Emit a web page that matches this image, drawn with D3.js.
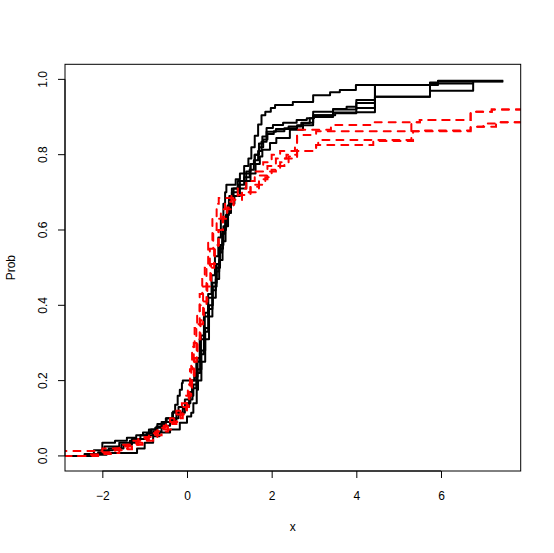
<!DOCTYPE html>
<html><head><meta charset="utf-8">
<script src="https://cdn.jsdelivr.net/npm/d3@7"></script>
<style>body{margin:0;background:#fff}svg{display:block}text{font-family:"Liberation Sans",Arial,Helvetica,sans-serif;}</style>
</head><body>
<svg id="c" width="554" height="553"></svg>
<script>
// x tick labels and y tick labels
const xTicks = [-2, 0, 2, 4, 6];
const yTicks = [0.0, 0.2, 0.4, 0.6, 0.8, 1.0];

// Black (solid) ECDF curves: [jump location, level after jump]; end = last x drawn
const black1 = [[-2.42,0.005],[-2.2,0.015],[-2.0,0.035],[-1.7,0.04],[-1.42,0.048],[-1.2,0.055],[-1.04,0.062],[-0.85,0.07],[-0.72,0.078],[-0.6,0.09],[-0.48,0.1],[-0.33,0.118],[-0.28,0.136],[-0.22,0.16],[-0.17,0.176],[-0.12,0.194],[-0.1,0.2],[0.17,0.21],[0.25,0.26],[0.33,0.32],[0.42,0.38],[0.5,0.43],[0.58,0.48],[0.66,0.53],[0.74,0.58],[0.8,0.63],[0.86,0.67],[0.9,0.70],[0.93,0.72],[1.15,0.735],[1.25,0.75],[1.35,0.77],[1.45,0.79],[1.52,0.82],[1.6,0.85],[1.68,0.88],[1.76,0.905],[1.85,0.914],[1.98,0.924],[2.08,0.932],[2.5,0.94],[2.98,0.958],[3.38,0.966],[3.61,0.972],[3.99,0.985],[5.74,0.992],[5.93,0.996]];
const black2 = [[-2.3,0.005],[-2.1,0.01],[-1.95,0.025],[-1.6,0.035],[-1.3,0.045],[-1.1,0.055],[-0.9,0.07],[-0.7,0.085],[-0.5,0.10],[-0.35,0.115],[-0.2,0.13],[-0.05,0.15],[0.05,0.17],[0.12,0.2],[0.22,0.25],[0.3,0.31],[0.4,0.37],[0.5,0.42],[0.6,0.46],[0.7,0.51],[0.78,0.56],[0.86,0.61],[0.94,0.65],[1.0,0.69],[1.06,0.71],[1.2,0.73],[1.35,0.75],[1.5,0.775],[1.6,0.80],[1.7,0.83],[1.78,0.848],[1.88,0.871],[2.03,0.879],[2.27,0.885],[2.59,0.892],[2.83,0.897],[2.98,0.914],[3.45,0.921],[3.77,0.927],[4.0,0.937],[4.44,0.954],[5.74,0.970],[6.76,0.989]];
const black3 = [[-2.2,0.005],[-2.0,0.012],[-1.85,0.02],[-1.55,0.03],[-1.35,0.04],[-1.18,0.045],[-1.0,0.055],[-0.8,0.065],[-0.6,0.08],[-0.4,0.095],[-0.25,0.11],[-0.1,0.125],[0.0,0.14],[0.08,0.16],[0.15,0.19],[0.25,0.23],[0.34,0.28],[0.43,0.34],[0.52,0.40],[0.61,0.45],[0.7,0.50],[0.78,0.55],[0.85,0.60],[0.92,0.64],[0.99,0.68],[1.06,0.70],[1.2,0.72],[1.35,0.74],[1.48,0.76],[1.58,0.785],[1.68,0.81],[1.76,0.834],[1.88,0.861],[2.1,0.868],[2.4,0.875],[2.7,0.885],[2.98,0.90],[3.45,0.912],[4.0,0.924],[4.44,0.985],[5.74,0.989],[6.76,0.996]];
const black4 = [[-2.15,0.005],[-1.98,0.015],[-1.75,0.02],[-1.5,0.03],[-1.3,0.035],[-1.15,0.045],[-0.95,0.06],[-0.75,0.075],[-0.55,0.09],[-0.35,0.10],[-0.2,0.115],[-0.05,0.13],[0.05,0.15],[0.13,0.18],[0.22,0.22],[0.31,0.27],[0.4,0.33],[0.5,0.39],[0.6,0.44],[0.68,0.49],[0.76,0.54],[0.83,0.59],[0.9,0.63],[0.96,0.665],[1.03,0.69],[1.1,0.71],[1.25,0.73],[1.4,0.755],[1.5,0.775],[1.6,0.80],[1.7,0.82],[1.8,0.84],[1.9,0.855],[2.05,0.862],[2.3,0.87],[2.6,0.878],[2.98,0.905],[3.45,0.92],[4.0,0.945],[4.44,0.985],[5.74,0.990],[5.93,0.995]];
const black5 = [[-2.2,0.003],[-1.9,0.008],[-1.18,0.02],[-1.0,0.035],[-0.8,0.052],[-0.65,0.062],[-0.4,0.07],[-0.17,0.088],[0.0,0.105],[0.1,0.115],[0.15,0.14],[0.23,0.176],[0.26,0.2],[0.34,0.25],[0.43,0.31],[0.52,0.37],[0.6,0.42],[0.68,0.47],[0.76,0.52],[0.84,0.57],[0.91,0.61],[0.97,0.645],[1.04,0.67],[1.12,0.69],[1.25,0.71],[1.4,0.73],[1.5,0.75],[1.62,0.775],[1.72,0.795],[1.78,0.813],[1.96,0.831],[2.11,0.844],[2.43,0.866],[2.74,0.884],[2.9,0.897],[3.0,0.905],[3.5,0.91],[4.0,0.913],[4.44,0.954],[5.74,0.985],[5.93,0.994]];
const blackEnds = [7.47, 6.76, 6.76, 7.47, 7.47];

// Red (dashed) ECDF curves
const red1 = [[-4,0.013],[-2.0,0.02],[-1.6,0.03],[-1.3,0.04],[-1.0,0.05],[-0.75,0.065],[-0.55,0.08],[-0.4,0.10],[-0.25,0.12],[-0.12,0.14],[-0.02,0.16],[0.02,0.18],[0.07,0.23],[0.12,0.29],[0.18,0.34],[0.24,0.38],[0.3,0.43],[0.36,0.47],[0.42,0.5],[0.5,0.57],[0.6,0.635],[0.7,0.67],[0.75,0.685],[1.2,0.693],[1.5,0.70],[1.7,0.72],[1.85,0.74],[2.0,0.76],[2.2,0.78],[2.4,0.795],[2.6,0.81],[3.05,0.826],[4.4,0.836],[5.34,0.862],[6.7,0.874],[7.3,0.886]];
const red2 = [[-2.35,0.004],[-2.0,0.01],[-1.7,0.02],[-1.4,0.03],[-1.15,0.045],[-0.9,0.06],[-0.7,0.075],[-0.5,0.09],[-0.3,0.11],[-0.15,0.13],[0.0,0.15],[0.05,0.19],[0.1,0.24],[0.16,0.3],[0.22,0.35],[0.3,0.4],[0.38,0.45],[0.46,0.5],[0.54,0.55],[0.62,0.6],[0.7,0.63],[0.8,0.655],[0.9,0.675],[1.05,0.69],[1.2,0.71],[1.4,0.73],[1.6,0.755],[1.8,0.78],[2.0,0.80],[2.2,0.81],[2.55,0.83],[2.6,0.866],[3.4,0.879],[4.4,0.886],[5.5,0.892],[6.7,0.914],[7.2,0.92]];
const red3 = [[-2.1,0.005],[-1.8,0.015],[-1.5,0.025],[-1.2,0.035],[-0.95,0.05],[-0.7,0.065],[-0.45,0.085],[-0.25,0.1],[-0.1,0.12],[0.0,0.14],[0.06,0.17],[0.12,0.21],[0.18,0.26],[0.25,0.31],[0.32,0.36],[0.4,0.41],[0.48,0.46],[0.57,0.51],[0.66,0.56],[0.75,0.6],[0.85,0.63],[0.95,0.655],[1.1,0.68],[1.3,0.70],[1.5,0.72],[1.7,0.745],[1.9,0.77],[2.1,0.79],[2.35,0.80],[2.6,0.852],[3.05,0.862],[5.5,0.864],[6.7,0.874],[7.0,0.883],[7.3,0.886]];
const red4 = [[-2.25,0.003],[-1.95,0.008],[-1.6,0.018],[-1.3,0.03],[-1.05,0.04],[-0.8,0.055],[-0.6,0.07],[-0.35,0.09],[-0.15,0.11],[-0.02,0.13],[0.04,0.16],[0.1,0.2],[0.16,0.25],[0.23,0.3],[0.3,0.35],[0.38,0.4],[0.46,0.45],[0.55,0.5],[0.64,0.55],[0.74,0.6],[0.84,0.635],[0.95,0.66],[1.1,0.68],[1.3,0.70],[1.5,0.715],[1.7,0.735],[1.9,0.755],[2.1,0.77],[2.3,0.79],[2.6,0.81],[3.05,0.826],[3.1,0.839],[4.4,0.839],[5.3,0.886],[5.5,0.892],[6.7,0.914],[7.2,0.92]];
const redEnds = [9, 9, 9, 9];

const blackCurves = [black1, black2, black3, black4, black5];
const redCurves = [red1, red2, red3, red4];

const W = 554, H = 553;
const pL = 65, pR = 520.7, pT = 64.3, pB = 471;
const x = d3.scaleLinear().domain([-2.882, 7.883]).range([pL, pR]);
const y = d3.scaleLinear().domain([-0.04, 1.04]).range([pB, pT]);

const svg = d3.select("#c");
svg.append("rect").attr("width", W).attr("height", H).attr("fill", "#fff");
svg.append("defs").append("clipPath").attr("id", "clip")
  .append("rect").attr("x", pL).attr("y", pT).attr("width", pR - pL).attr("height", pB - pT);

function stepPoints(knots, end) {
  const pts = [[x.domain()[0] - 2, 0]];
  let prev = 0;
  knots.forEach(([kx, kp]) => { pts.push([kx, prev]); pts.push([kx, kp]); prev = kp; });
  pts.push([end, prev]);
  return pts;
}
const line = d3.line().x(d => x(d[0])).y(d => y(d[1]));
const g = svg.append("g").attr("clip-path", "url(#clip)");
blackCurves.forEach((c, i) => {
  g.append("path").attr("d", line(stepPoints(c, blackEnds[i])))
    .attr("fill", "none").attr("stroke", "#000").attr("stroke-width", 2).attr("stroke-linejoin", "round");
});
redCurves.forEach((c, i) => {
  g.append("path").attr("d", line(stepPoints(c, redEnds[i])))
    .attr("fill", "none").attr("stroke", "#ff0000").attr("stroke-width", 2)
    .attr("stroke-dasharray", "7,7").attr("stroke-linecap", "round");
});

// box
svg.append("rect").attr("x", pL).attr("y", pT).attr("width", pR - pL).attr("height", pB - pT)
  .attr("fill", "none").attr("stroke", "#000").attr("stroke-width", 1);

// x axis
const xa = svg.append("g").attr("transform", `translate(0,${pB})`)
  .call(d3.axisBottom(x).tickValues(xTicks).tickSize(7).tickPadding(13).tickFormat(d => d < 0 ? "\u2212" + Math.abs(d) : String(d)));
xa.select(".domain").attr("d", `M${x(xTicks[0])},0H${x(xTicks[xTicks.length-1])}`);
xa.selectAll("text").attr("font-size", 12).attr("fill", "#000").attr("font-family", "Liberation Sans, Arial, sans-serif");
xa.selectAll("line").attr("stroke", "#000");

// y axis
const ya = svg.append("g").attr("transform", `translate(${pL},0)`)
  .call(d3.axisLeft(y).tickValues(yTicks).tickSize(7).tickFormat(d3.format(".1f")));
ya.select(".domain").attr("d", `M0,${y(yTicks[0])}V${y(yTicks[yTicks.length-1])}`);
ya.selectAll(".tick").attr("transform", null);
ya.selectAll(".tick line").attr("transform", d => `translate(0,${y(d)})`).attr("stroke", "#000");
ya.selectAll(".tick text")
  .attr("x", null).attr("dy", null).attr("y", 0)
  .attr("transform", d => `translate(-18.5,${y(d)}) rotate(-90)`)
  .attr("text-anchor", "middle")
  .attr("font-size", 12).attr("fill", "#000").attr("font-family", "Liberation Sans, Arial, sans-serif");

// axis titles
svg.append("text").attr("x", (pL + pR) / 2).attr("y", 531).attr("text-anchor", "middle")
  .attr("font-size", 12).text("x");
svg.append("text").attr("transform", `translate(15,${(pT + pB) / 2}) rotate(-90)`).attr("text-anchor", "middle")
  .attr("font-size", 12).text("Prob");
</script>
</body></html>
